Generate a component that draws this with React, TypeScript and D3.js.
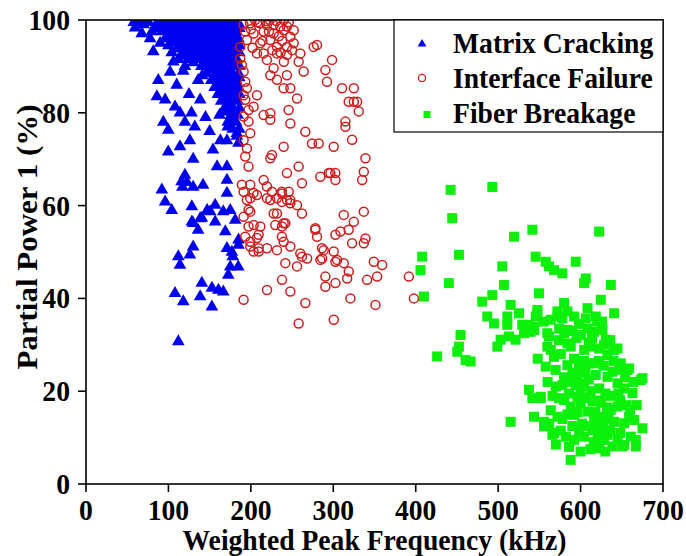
import React from 'react';
import * as d3 from 'd3';

// [weighted peak frequency (kHz), partial power 1 (%)]
const matrixCracking: [number, number][] = [
  [59.5, 98.3], [67.7, 97.1], [77.8, 96.0], [81.6, 93.2], [90, 95], [87.7, 87], [86, 83.5], [96, 82.8],
  [102, 88.8], [106, 91], [108, 81.3], [93.8, 78], [99.8, 76.3], [114, 80], [138.5, 82.8], [136, 87],
  [141, 88], [132, 77], [99.8, 71.6], [114, 72.7], [126, 74], [130, 70], [120, 66.6], [122.5, 65],
  [117, 64], [130, 64], [142, 64.4], [159, 68.4], [171, 68.4], [171, 65.5], [154, 72], [171, 74],
  [163, 74], [172, 77], [183, 75.6], [92, 63.4], [96, 60.8], [104, 59], [128.4, 59.8], [130, 56.2],
  [136, 54.7], [140.5, 57.3], [150.7, 58.7], [156.7, 60.1], [156.7, 56.5], [166.5, 58.7], [175, 59],
  [181, 56.9], [169, 54.4], [171, 62.7], [116, 65.2], [130, 51.1], [126, 49.4], [112, 49], [114, 47.2],
  [171, 50.8], [177, 50], [185, 51.5], [175, 46.8], [184.7, 46.8], [172.6, 45], [140.5, 43.3],
  [152.7, 42.2], [160.6, 41.8], [166.5, 41.4], [108, 41.1], [118, 39.3], [138.5, 40.4], [152.7, 38.2],
  [112, 30.7], [138.5, 57.2], [128.5, 56.5], [178, 49], [183, 75], [147, 59], [185, 52.6], [120, 78],
  [128, 80], [145, 79], [150, 76], [110, 86], [125, 84], [118, 89],
  [58, 99.5], [64, 99.5], [70, 99], [76, 99.5], [85, 99], [92, 99.5], [98, 99], [103, 99.5], [108, 99],
  [113, 99.5], [118, 99], [123, 99.5], [128, 99], [133, 99.5], [138, 99], [143, 99.5], [148, 99],
  [153, 99.5], [158, 99], [163, 99.5], [168, 99], [173, 99.5], [178, 99], [183, 99.5], [186, 99],
  [80, 97.5], [87, 98.2], [92, 97.5], [97, 98.2], [102, 97.5], [107, 98.2], [112, 97.5], [117, 98.2],
  [122, 97.5], [127, 98.2], [132, 97.5], [137, 98.2], [142, 97.5], [147, 98.2], [152, 97.5],
  [157, 98.2], [162, 97.5], [167, 98.2], [172, 97.5], [177, 98.2], [182, 97.5], [186, 98.2],
  [96, 96], [101, 96.8], [106, 96], [111, 96.8], [116, 96], [121, 96.8], [126, 96], [131, 96.8],
  [136, 96], [141, 96.8], [146, 96], [151, 96.8], [156, 96], [161, 96.8], [166, 96], [171, 96.8],
  [176, 96], [181, 96.8], [185, 96],
  [100, 94.5], [106, 95.2], [112, 94.5], [117, 95.2], [122, 94.5], [126, 95.2], [130, 94.5],
  [135, 95.2], [140, 94.5], [145, 95.2], [150, 94.5], [155, 95.2], [160, 94.5], [165, 95.2],
  [170, 94.5], [175, 95.2], [180, 94.5], [186, 94.5],
  [104, 93], [112, 93.8], [118, 93], [123, 93.8], [128, 93], [133, 93.8], [138, 93], [143, 93.8],
  [148, 93], [153, 93.8], [158, 93], [163, 93.8], [168, 93], [173, 93.8], [178, 93], [183, 93.8], [186, 93],
  [112, 91.5], [118, 92.2], [124, 91.5], [129, 92.2], [134, 91.5], [139, 92.2], [144, 91.5], [149, 92.2],
  [154, 91.5], [159, 92.2], [164, 91.5], [169, 92.2], [174, 91.5], [179, 92.2], [183, 91.5],
  [120, 90], [130, 90.8], [140, 90], [145, 90.8], [150, 90], [155, 90.8], [160, 90], [165, 90.8],
  [170, 90], [175, 90.8], [180, 90], [186, 90],
  [146, 88.5], [152, 89.2], [158, 88.5], [163, 89.2], [168, 88.5], [173, 89.2], [178, 88.5], [185, 88.5],
  [152, 87], [158, 87.6], [164, 87], [168, 87.6], [172, 87], [177, 87.6], [182, 87], [186, 87.6],
  [156, 85.5], [161, 86.2], [166, 85.5], [171, 86.2], [176, 85.5], [181, 86.2], [185, 85.5],
  [160, 84], [165, 84.7], [170, 84], [175, 84.7], [180, 84], [186, 84],
  [164, 82.5], [169, 83.2], [174, 82.5], [179, 83.2], [184, 82.5],
  [168, 81], [173, 81.7], [178, 81], [186, 81],
  [162, 79.5], [170, 80.2], [176, 79.5], [181, 80.2], [184, 79.5],
  [172, 78], [177, 78.7], [182, 78], [178, 76.5], [186, 76.5], [185, 73.5],
];

const interfaceFailure: [number, number][] = [
  [191, 99], [199, 99.3], [211, 99.3], [219.5, 98.9], [227.6, 98.9], [235.7, 98.6], [243.8, 98.6],
  [252, 97.8], [203.3, 97.1], [215.5, 97.5], [227.6, 97.1], [239.8, 97.8], [247.9, 96.4], [195.2, 95.7],
  [211.4, 95], [223.6, 95.7], [231.7, 94.2], [243.8, 94.2], [252, 95], [260, 92.8], [207.4, 92.8],
  [215.5, 92.8], [219.5, 91.4], [231.7, 92.8], [243.8, 92.5], [258, 91], [264, 88.9], [276.2, 94.2],
  [280.3, 94.6], [298.5, 91.4], [290.4, 89.2], [292.4, 86.7], [310.6, 85.3], [318.7, 82.4],
  [200, 98], [208, 99.5], [222, 97.5], [234, 96.5], [246, 99.5], [214, 95.5], [238, 95.5], [202, 94],
  [226, 93.5], [250, 93.5], [218, 99.8], [231, 99.8], [193, 97.5], [240, 91], [205, 100], [223, 100],
  [240, 100], [236, 93],
  [187.1, 94.2], [187.1, 91.7], [189.1, 90.3], [191.2, 88.9], [193.2, 86.7], [195.2, 85.3], [191.2, 83.8],
  [193.2, 82.8], [197.2, 80.6], [191.2, 79.2], [197.2, 78.1], [199.3, 75.6], [191.2, 74.1], [195.2, 72.3],
  [193.2, 70.6], [197.2, 68.4], [189.1, 64.5], [199.3, 64.5], [191.2, 63], [203.3, 62.7], [195.2, 61.2],
  [197.2, 59.1], [191.2, 57.6], [197.2, 55.5], [193.2, 53.3], [207.4, 53], [199.3, 51.2], [209.4, 50.8],
  [207.4, 83.8], [203.3, 81.3], [215.5, 79.5], [223.6, 79.9], [223.6, 78.5], [245.8, 80.6], [239.8, 85.3],
  [247.9, 85.3], [256, 83.1], [231.7, 87.1], [223.6, 88.1], [243.8, 88.1], [227.6, 89.6], [266.1, 75.9],
  [274.2, 73.4], [282.3, 73.4], [247.9, 77.7], [239.8, 72.7], [225.6, 70.9], [223.6, 70.2], [215.5, 65.5],
  [219.5, 64.1], [225.6, 63], [231.7, 61.6], [237.7, 63], [243.8, 61.2], [247.9, 60.5], [243.8, 67],
  [258, 68.4], [262, 64.8], [262, 58.3], [284.3, 66.2], [300.5, 72.7], [302.5, 67], [294.4, 67],
  [231.7, 58.3], [229.6, 55.8], [239.8, 56.2], [237.7, 53.3], [247.9, 51.2], [260, 49.7], [278.2, 54.8],
  [280.3, 53.3], [286.3, 50.8], [300.5, 50.1], [304.6, 48.3], [312.7, 58], [318.7, 54.8], [312.7, 47.6],
  [241.8, 47.6], [256, 46.9], [262, 49], [284.3, 48.3],
  [324.9, 85.3], [324.9, 82.4], [328.9, 82.4], [330.9, 80.3], [314.7, 78.1], [314.7, 77], [322.8, 74.2],
  [339, 70.2], [337, 67.3], [335, 65.5], [296.5, 67], [302.6, 65.5],
  [199.3, 61.6], [207.4, 62.3], [219.6, 61.6], [223.6, 61.2], [237.8, 62.6], [237.8, 60.8], [245.9, 63],
  [247.9, 61.2], [256, 60.1], [227.7, 58.3], [199.3, 58.7], [203.4, 55.8], [211.5, 55.5], [209.4, 53.7],
  [199.3, 52.2], [203.4, 50.1], [209.4, 50.1], [219.6, 50.8], [231.7, 50.4], [239.8, 52.2], [237.8, 55.5],
  [241.8, 56.2], [278.3, 55.1], [302.6, 53.7], [308.7, 54.4], [324.9, 56.5], [337, 58.7], [322.8, 51.9],
  [337, 51.9], [339, 52.9], [268.2, 48.6], [288.4, 50.4], [286.4, 48.6], [302.6, 47.9], [290.4, 44.7],
  [290.4, 42.5], [302.6, 43.3], [318.8, 45.8], [316.8, 44.3], [341, 44], [353.2, 44.7], [349.2, 47.9],
  [359.3, 47.2], [237.8, 44], [219.6, 41.8], [247.9, 41.5], [191.2, 39.7], [266.1, 39], [320.8, 40],
  [351.2, 38.6], [258, 34.6], [300.6, 35.4], [391.7, 44.7], [397.8, 40],
];

const fiberBreakage: [number, number][] = [
  [442.3, 63.4], [492.9, 64], [444.3, 57.3], [407.8, 49], [405.8, 46.1], [452.4, 49.4], [519.2, 53.3],
  [541.5, 54.8], [622.5, 54.4], [505, 46.9], [545.5, 49], [557.7, 47.9], [561.7, 46.9], [567.8, 46.1],
  [577.9, 45.4], [594.1, 47.9], [606.3, 44.3],
  [440.2, 43.3], [409.9, 40.4], [507, 42.9], [492.9, 40.7], [480.7, 39.3], [549.6, 41.1], [515.2, 38.6],
  [486.8, 36.1], [494.9, 34.6], [511.1, 36.1], [511.1, 34.3], [525.3, 36.8], [547.6, 36.8], [580, 39],
  [571.9, 36.1], [521.2, 31.1], [531.4, 32.5], [537.4, 34.3], [543.5, 33.9], [559.7, 32.5], [503, 31.1],
  [499, 29.6], [454.4, 32.1], [452.4, 29.6], [580, 32.5], [584, 30.3],
  [636.7, 42.9], [624.5, 39.7], [513.1, 31.8], [640.7, 36.8], [539.5, 32.8], [529.3, 34.3], [450.4, 28.5],
  [466.6, 26.4], [460.5, 26.7], [426, 27.5], [537.4, 20.3], [541.5, 18.5], [551.6, 18.5], [543.5, 14.5],
  [515.2, 13.4], [555.7, 12.4], [567.8, 11], [588, 5.2], [658.9, 24.9], [675.1, 22.8], [663, 19.6],
  [665, 13.8], [675.1, 12], [667, 8.1], [640.7, 28.9], [648.8, 26], [646.8, 24.6], [644.8, 9.5],
  [652.9, 8.4], [622.5, 7.7], [628.5, 9.5],
  [547.6, 37.5], [545.6, 36.1], [571.9, 37.2], [584, 37.2], [578, 35.7], [563.8, 35.4], [592.2, 36.1],
  [608.4, 37.9], [606.3, 35.7], [618.5, 36.1], [543.6, 33.2], [561.8, 31.8], [573.9, 31], [584, 33.2],
  [600.3, 32.1], [616.5, 32.8], [626.6, 33.2], [630.6, 31.1], [644.8, 29.2], [563.8, 28.9], [588.1, 29.6],
  [604.3, 28.9], [622.5, 29.2], [604.3, 43.3],
  [559.7, 29.6], [567.8, 27.4], [557.7, 25.3], [569.8, 24.6], [584, 25.6], [612.4, 29.6], [628.5, 30],
  [632.6, 27.8], [673.1, 22.4], [551.6, 18.8], [555.7, 13.4], [563.8, 15.9], [573.9, 18.5], [577.9, 21.3],
  [594.1, 21.3], [596.2, 18.8], [604.3, 21.7], [618.4, 23.5], [622.5, 20.6], [632.6, 23.1], [638.7, 24.2],
  [644.8, 21.7], [652.9, 20.6], [580, 18.1], [588.1, 16.7], [592.1, 14.9], [600.2, 17.4], [608.3, 15.6],
  [614.4, 17.8], [616.4, 14.2], [626.5, 14.5], [636.6, 16], [644.8, 16.7], [640.7, 13.4], [652.9, 13.1],
  [658.9, 14.5], [667, 9.5], [650.8, 8.1], [565.8, 10.6], [582, 10.2], [592.1, 9.5], [604.3, 10.2],
  [614.4, 11.6], [620.5, 9.5], [632.6, 10.6], [638.7, 8.1], [656.9, 24.6], [661, 10.2],
  [585, 22], [598, 25], [610, 26], [622, 26.5], [590, 12.5], [602, 13], [612, 20], [625, 17.5], [630, 19.5],
  [648, 18], [595, 31.5], [608, 33.5], [570, 21], [566, 19], [612, 7.5], [628, 13], [600, 7], [578, 14],
  [586, 19.5], [596, 23], [606, 24], [618, 12.5], [634, 14], [610, 30.5], [620, 35], [590, 33], [576, 28],
  [560, 22], [548, 27], [555, 35],
  [574, 33.5], [598, 34.5], [614, 31.5], [626, 35], [636, 31], [592, 27], [604, 26.5], [616, 26],
  [628, 25.5], [640, 26.5], [580, 23], [590, 24], [600, 20], [610, 22.5], [620, 18], [636, 19],
  [646, 19.5], [656, 17], [584, 15], [596, 15.5], [606, 18.5], [618, 15.5], [632, 16.5], [648, 11],
  [660, 16], [572, 14.5], [586, 8], [598, 11.5], [608, 12.5], [624, 11.5], [636, 11.5], [616, 9],
  [630, 7], [570, 8.5], [576, 11.5], [562, 13], [654, 23], [664, 22], [668, 17],
];

const xTicks = [0, 100, 200, 300, 400, 500, 600, 700];
const yTicks = [0, 20, 40, 60, 80, 100];
const seriesNames = ['Matrix Cracking', 'Interface Failure', 'Fiber Breakage'];

const BLUE = '#0000f0';
const RED = '#cf1d1d';
const GREEN = '#0cf00c';
const FONT = "'Liberation Serif', 'Times New Roman', serif";
const SQ = 0.97; // slight horizontal condensing of the lettering

export default function App() {
  const left = 86, right = 663, top = 20, bottom = 484;
  const x = d3.scaleLinear().domain([0, 700]).range([left, right]);
  const y = d3.scaleLinear().domain([0, 100]).range([bottom, top]);

  const tri = d3.symbol().type(d3.symbolTriangle).size(70)() as string;
  const triSmall = d3.symbol().type(d3.symbolTriangle).size(34)() as string;

  const textStyle: React.CSSProperties = { fontFamily: FONT, fontWeight: 'bold', fontSize: 28.5, fill: '#000' };

  return (
    <svg width={686} height={556} style={{ position: 'absolute', left: 0, top: 0, background: '#fff' }}>
      <defs>
        <clipPath id="plotArea">
          <rect x={left} y={top} width={right - left} height={bottom - top} />
        </clipPath>
      </defs>
      <rect width={686} height={556} fill="#fff" />

      <g clipPath="url(#plotArea)">
        {matrixCracking.map(([fx, p], i) => (
          <path key={'m' + i} d={tri} transform={`translate(${x(fx)},${y(p)})`} fill={BLUE} />
        ))}
        {interfaceFailure.map(([fx, p], i) => (
          <circle key={'i' + i} cx={x(fx)} cy={y(p)} r={4.5} fill="none" stroke={RED} strokeWidth={1.5} />
        ))}
        {fiberBreakage.map(([fx, p], i) => (
          <rect key={'f' + i} x={x(fx) - 5} y={y(p) - 5} width={10} height={10} fill={GREEN} />
        ))}
      </g>

      {/* frame */}
      <rect x={left} y={top} width={right - left} height={bottom - top} fill="none" stroke="#000" strokeWidth={1.6} />

      {/* x axis ticks and labels */}
      {xTicks.map((t) => (
        <g key={'xt' + t}>
          <line x1={x(t)} x2={x(t)} y1={bottom} y2={bottom + 8} stroke="#000" strokeWidth={1.6} />
          <text transform={`translate(${x(t)},520) scale(${SQ},1)`} textAnchor="middle" style={textStyle}>
            {t}
          </text>
        </g>
      ))}
      {/* y axis ticks and labels */}
      {yTicks.map((t) => (
        <g key={'yt' + t}>
          <line x1={left - 8} x2={left} y1={y(t)} y2={y(t)} stroke="#000" strokeWidth={1.6} />
          <text transform={`translate(70,${y(t) + 10}) scale(${SQ},1)`} textAnchor="end" style={textStyle}>
            {t}
          </text>
        </g>
      ))}

      <text transform={`translate(${(left + right) / 2},550) scale(${SQ},1)`} textAnchor="middle" style={textStyle}>
        Weighted Peak Frequency (kHz)
      </text>
      <text transform={`translate(37,237) scale(${SQ},1) rotate(-90)`} textAnchor="middle" style={{ ...textStyle, fontSize: 31 }}>
        Partial Power 1 (%)
      </text>

      {/* legend */}
      <rect x={394} y={top} width={right - 394} height={112} fill="#fff" stroke="#000" strokeWidth={1.2} />
      <path d={triSmall} transform="translate(422,44)" fill={BLUE} />
      <circle cx={422} cy={78} r={3.6} fill="none" stroke={RED} strokeWidth={1.3} />
      <rect x={423.5} y={111} width={7} height={7} fill={GREEN} />
      {seriesNames.map((name, i) => (
        <text key={name} transform={`translate(453,${53 + i * 35}) scale(${SQ},1)`} style={textStyle}>
          {name}
        </text>
      ))}
    </svg>
  );
}
